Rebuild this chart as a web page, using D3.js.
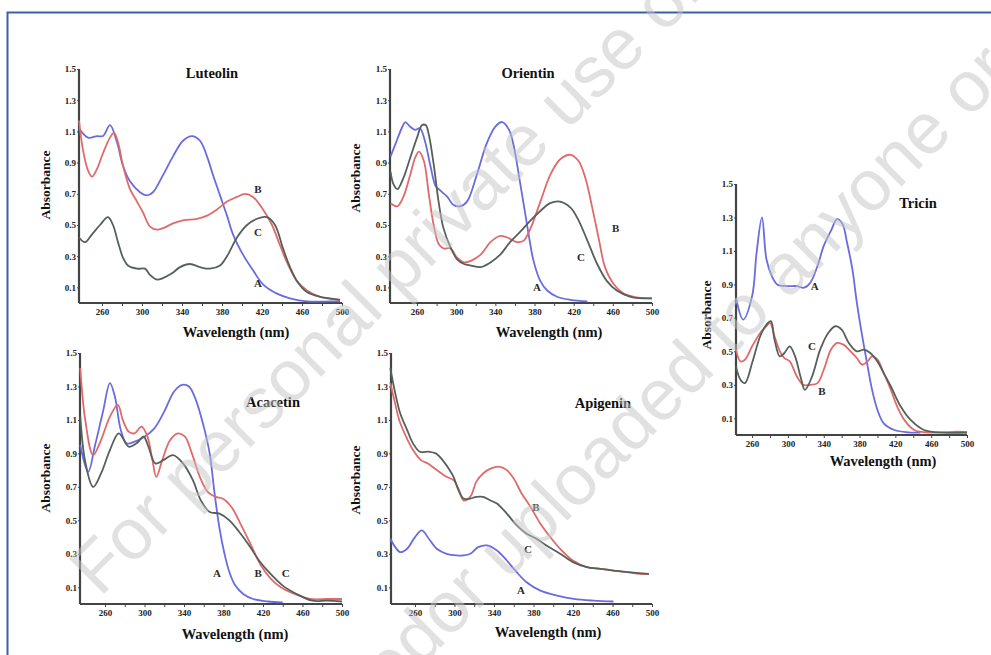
<!DOCTYPE html>
<html>
<head>
<meta charset="utf-8">
<script src="https://cdn.jsdelivr.net/npm/d3@7"></script>
<style>
  html, body { margin: 0; padding: 0; background: #fff; }
  svg { display: block; }
</style>
</head>
<body>
<svg id="chart" width="991" height="655"></svg>
<script>
// UV-Vis spectra, wavelength (nm) vs absorbance. A = compound, B and C = shifted spectra.
const luteolinA = [[237,1.12],[246,1.06],[255,1.07],[261,1.07],[268,1.14],[275,1.03],[281,0.88],[288,0.78],[298,0.71],[305,0.69],[311,0.71],[321,0.82],[331,0.94],[341,1.04],[350,1.07],[358,1.04],[365,0.94],[371,0.82],[378,0.69],[385,0.56],[391,0.44],[401,0.31],[411,0.21],[421,0.12],[435,0.06],[448,0.03],[465,0.01],[488,0.01],[498,0.01]];
const luteolinB = [[237,1.17],[241,0.98],[246,0.85],[250,0.81],[255,0.86],[261,0.96],[268,1.06],[272,1.09],[276,1.03],[281,0.88],[288,0.73],[295,0.65],[301,0.58],[308,0.49],[315,0.47],[321,0.48],[331,0.51],[341,0.53],[355,0.54],[365,0.56],[375,0.60],[385,0.65],[395,0.68],[403,0.70],[411,0.68],[421,0.60],[430,0.50],[438,0.37],[445,0.26],[455,0.14],[465,0.08],[478,0.04],[488,0.03],[498,0.02]];
const luteolinC = [[237,0.42],[243,0.39],[250,0.44],[258,0.50],[266,0.55],[271,0.50],[276,0.39],[281,0.29],[286,0.24],[295,0.22],[303,0.22],[308,0.18],[315,0.15],[321,0.16],[330,0.19],[338,0.23],[348,0.25],[358,0.23],[368,0.22],[378,0.24],[385,0.30],[395,0.42],[405,0.50],[415,0.54],[425,0.55],[433,0.50],[441,0.35],[448,0.23],[455,0.14],[465,0.07],[478,0.04],[498,0.02]];

const orientinA = [[233,0.94],[238,1.02],[245,1.13],[248,1.16],[253,1.13],[258,1.11],[263,1.12],[268,1.04],[274,0.87],[279,0.75],[284,0.72],[291,0.68],[297,0.63],[304,0.62],[311,0.65],[321,0.82],[331,1.02],[340,1.13],[347,1.16],[354,1.11],[359,1.00],[364,0.82],[369,0.63],[374,0.44],[379,0.27],[386,0.14],[393,0.08],[403,0.04],[417,0.02],[434,0.01]];
const orientinB = [[233,0.64],[240,0.62],[246,0.68],[253,0.82],[258,0.93],[262,0.97],[267,0.91],[272,0.70],[277,0.50],[282,0.38],[287,0.35],[294,0.35],[301,0.29],[308,0.26],[315,0.27],[325,0.31],[335,0.39],[345,0.43],[352,0.42],[362,0.39],[369,0.40],[376,0.48],[386,0.65],[396,0.82],[406,0.92],[417,0.95],[425,0.91],[432,0.80],[439,0.61],[446,0.40],[452,0.23],[461,0.12],[471,0.06],[481,0.04],[500,0.03]];
const orientinC = [[233,0.84],[236,0.76],[240,0.73],[246,0.80],[253,0.93],[260,1.06],[265,1.14],[269,1.14],[272,1.08],[277,0.89],[282,0.65],[287,0.48],[294,0.36],[301,0.28],[308,0.25],[315,0.24],[325,0.23],[335,0.26],[345,0.31],[355,0.39],[366,0.46],[376,0.53],[386,0.59],[396,0.64],[406,0.65],[417,0.61],[425,0.53],[434,0.40],[444,0.25],[454,0.14],[464,0.08],[478,0.04],[500,0.03]];

const acacetinA = [[235,0.95],[243,0.79],[250,0.95],[258,1.15],[265,1.32],[270,1.24],[276,1.04],[282,0.96],[290,0.97],[300,1.00],[310,1.05],[320,1.15],[330,1.27],[338,1.31],[345,1.30],[352,1.22],[360,1.06],[366,0.90],[371,0.66],[376,0.45],[381,0.30],[386,0.19],[392,0.11],[400,0.06],[410,0.03],[425,0.015],[440,0.01]];
const acacetinB = [[235,1.41],[240,1.10],[248,0.89],[256,0.98],[265,1.12],[273,1.19],[278,1.10],[284,1.03],[290,1.02],[297,1.06],[303,1.00],[308,0.86],[312,0.76],[318,0.86],[326,0.98],[334,1.02],[341,1.00],[348,0.90],[356,0.76],[364,0.67],[372,0.64],[379,0.63],[388,0.58],[398,0.47],[408,0.35],[418,0.23],[428,0.15],[438,0.10],[452,0.06],[468,0.03],[485,0.03],[500,0.03]];
const acacetinC = [[235,1.12],[240,0.85],[248,0.70],[256,0.78],[265,0.92],[274,1.02],[284,0.94],[292,0.96],[299,1.00],[304,0.94],[311,0.84],[319,0.86],[329,0.89],[339,0.84],[349,0.74],[357,0.62],[366,0.55],[376,0.54],[386,0.50],[396,0.43],[406,0.35],[416,0.26],[426,0.19],[440,0.11],[454,0.06],[470,0.02],[485,0.02],[500,0.015]];

const apigeninA = [[235,0.39],[240,0.34],[245,0.31],[252,0.33],[260,0.40],[267,0.44],[274,0.39],[282,0.33],[292,0.30],[302,0.29],[309,0.29],[316,0.30],[324,0.34],[333,0.35],[343,0.32],[353,0.26],[363,0.19],[373,0.13],[387,0.08],[404,0.05],[421,0.03],[441,0.02],[461,0.015]];
const apigeninB = [[235,1.32],[239,1.22],[244,1.10],[251,1.00],[258,0.92],[266,0.86],[273,0.84],[280,0.81],[287,0.78],[292,0.76],[299,0.74],[304,0.69],[309,0.62],[312,0.62],[317,0.65],[322,0.73],[329,0.78],[337,0.81],[346,0.82],[353,0.80],[360,0.75],[368,0.66],[377,0.58],[387,0.48],[397,0.40],[407,0.33],[420,0.26],[434,0.22],[448,0.21],[461,0.20],[475,0.19],[488,0.18],[497,0.18]];
const apigeninC = [[235,1.41],[240,1.26],[245,1.14],[252,1.04],[258,0.96],[265,0.91],[274,0.91],[281,0.90],[288,0.86],[294,0.81],[299,0.76],[304,0.68],[309,0.63],[316,0.63],[322,0.64],[329,0.64],[336,0.62],[343,0.60],[353,0.54],[363,0.47],[373,0.42],[383,0.39],[393,0.35],[407,0.30],[420,0.25],[434,0.22],[448,0.21],[461,0.20],[475,0.19],[497,0.18]];

const tricinA = [[242,0.82],[250,0.69],[260,0.83],[265,1.09],[271,1.30],[276,1.05],[282,0.95],[288,0.90],[299,0.89],[310,0.89],[318,0.88],[325,0.91],[333,1.01],[340,1.13],[348,1.22],[355,1.29],[361,1.26],[366,1.15],[372,0.99],[377,0.79],[383,0.59],[389,0.41],[394,0.27],[400,0.15],[407,0.07],[419,0.03],[434,0.016],[448,0.015]];
const tricinB = [[242,0.51],[247,0.44],[252,0.45],[260,0.53],[269,0.61],[276,0.65],[280,0.67],[285,0.59],[291,0.50],[296,0.46],[302,0.44],[310,0.35],[317,0.30],[325,0.30],[333,0.31],[340,0.39],[348,0.51],[355,0.55],[362,0.54],[370,0.50],[377,0.46],[383,0.42],[389,0.44],[394,0.47],[400,0.45],[407,0.37],[415,0.27],[422,0.17],[430,0.09],[441,0.03],[460,0.014],[490,0.02],[500,0.015]];
const tricinC = [[242,0.41],[247,0.33],[252,0.31],[260,0.43],[269,0.59],[276,0.66],[281,0.68],[285,0.57],[291,0.47],[296,0.49],[302,0.53],[308,0.47],[314,0.35],[319,0.27],[327,0.35],[336,0.51],[345,0.61],[353,0.65],[360,0.63],[368,0.55],[377,0.50],[385,0.51],[392,0.49],[400,0.44],[407,0.37],[415,0.29],[426,0.17],[437,0.09],[452,0.03],[474,0.014],[500,0.015]];

const xTickValues = [260, 300, 340, 380, 420, 460, 500];
const yTickValues = [0.1, 0.3, 0.5, 0.7, 0.9, 1.1, 1.3, 1.5];
const seriesNames = ["A", "B", "C"];

// Layout of each small plot on the page
const panels = [
  { title: "Luteolin", data: [luteolinA, luteolinB, luteolinC],
    xr: [79, 342], xd: [237, 500], yr: [303, 69],
    titlePos: [212, 78], xTitle: [236, 337], yTitle: [45, 185],
    letters: [[416, 0.13], [416, 0.73], [416, 0.455]] },
  { title: "Orientin", data: [orientinA, orientinB, orientinC],
    xr: [390, 652], xd: [232.4, 500], yr: [303, 69],
    titlePos: [528, 78], xTitle: [549, 337], yTitle: [355, 178],
    letters: [[382.6, 0.10], [463, 0.48], [427.5, 0.295]] },
  { title: "Acacetin", data: [acacetinA, acacetinB, acacetinC],
    xr: [80, 342], xd: [234.7, 500], yr: [604, 353],
    titlePos: [273, 407], xTitle: [235, 639], yTitle: [45, 478],
    letters: [[373.4, 0.185], [415, 0.185], [443, 0.185]] },
  { title: "Apigenin", data: [apigeninA, apigeninB, apigeninC],
    xr: [391, 652], xd: [235.7, 500], yr: [604, 353],
    titlePos: [603, 408], xTitle: [548, 637], yTitle: [355, 480],
    letters: [[367.3, 0.085], [382.5, 0.58], [374.4, 0.33]] },
  { title: "Tricin", data: [tricinA, tricinB, tricinC],
    xr: [736, 967], xd: [242, 500], yr: [435, 184],
    titlePos: [918, 208], xTitle: [883, 466], yTitle: [706, 315],
    letters: [[330, 0.89], [338, 0.26], [326.8, 0.53]] }
];

const colors = ["#6b6be0", "#e06a6a", "#56605a"];
const serif = "'Liberation Serif', 'Times New Roman', serif";

const svg = d3.select("#chart");

// page frame
svg.append("rect")
  .attr("x", 7.5).attr("y", 12.5)
  .attr("width", 1000).attr("height", 700)
  .attr("fill", "none")
  .attr("stroke", "#3d5fa8")
  .attr("stroke-width", 2);

panels.forEach(p => {
  const x = d3.scaleLinear().domain(p.xd).range(p.xr);
  const y = d3.scaleLinear().domain([0, 1.5]).range(p.yr);
  const g = svg.append("g");

  // x axis
  const xAxis = d3.axisBottom(x)
    .tickValues(d3.range(260, 501, 20))
    .tickSize(3)
    .tickFormat(d => xTickValues.includes(d) ? d : "");
  const gx = g.append("g")
    .attr("transform", `translate(0,${p.yr[0]})`)
    .call(xAxis);
  gx.select(".domain")
    .attr("d", `M${p.xr[0]},0H${p.xr[1]}`)
    .attr("stroke", "#444").attr("stroke-width", 2.2);
  gx.selectAll(".tick line").attr("stroke", "#444").attr("stroke-width", 1);
  gx.selectAll(".tick text")
    .attr("font-family", serif).attr("font-weight", "bold")
    .attr("font-size", 9).attr("fill", "#222").attr("dy", "0.62em");

  // y axis
  const yAxis = d3.axisLeft(y)
    .tickValues(yTickValues)
    .tickSize(2)
    .tickFormat(d3.format(".1f"));
  const gy = g.append("g")
    .attr("transform", `translate(${p.xr[0]},0)`)
    .call(yAxis);
  gy.select(".domain")
    .attr("d", `M0,${y(1.5)}V${p.yr[0]}`)
    .attr("stroke", "#444").attr("stroke-width", 2.2);
  gy.selectAll(".tick line").attr("stroke", "#444");
  gy.selectAll(".tick text")
    .attr("font-family", serif).attr("font-weight", "bold")
    .attr("font-size", 9).attr("fill", "#222").attr("x", -3);

  // spectra
  const line = d3.line()
    .x(d => x(d[0]))
    .y(d => y(d[1]))
    .curve(d3.curveCatmullRom.alpha(0.5));
  p.data.forEach((s, i) => {
    g.append("path")
      .datum(s)
      .attr("d", line)
      .attr("fill", "none")
      .attr("stroke", colors[i])
      .attr("stroke-width", 1.8)
      .attr("stroke-linejoin", "round");
  });

  // series letters
  p.letters.forEach((l, i) => {
    g.append("text")
      .attr("x", x(l[0])).attr("y", y(l[1]))
      .attr("dy", "0.35em")
      .attr("text-anchor", "middle")
      .attr("font-family", serif).attr("font-weight", "bold")
      .attr("font-size", 11).attr("fill", "#2a2a2a")
      .text(seriesNames[i]);
  });

  // titles
  g.append("text")
    .attr("x", p.titlePos[0]).attr("y", p.titlePos[1])
    .attr("text-anchor", "middle")
    .attr("font-family", serif).attr("font-weight", "bold")
    .attr("font-size", 14.5).attr("fill", "#111")
    .text(p.title);
  g.append("text")
    .attr("x", p.xTitle[0]).attr("y", p.xTitle[1])
    .attr("text-anchor", "middle")
    .attr("font-family", serif).attr("font-weight", "bold")
    .attr("font-size", 14.5).attr("fill", "#111")
    .text("Wavelength (nm)");
  g.append("text")
    .attr("transform", `translate(${p.yTitle[0]},${p.yTitle[1]}) rotate(-90)`)
    .attr("text-anchor", "middle")
    .attr("dy", "0.35em")
    .attr("font-family", serif).attr("font-weight", "bold")
    .attr("font-size", 13.5).attr("fill", "#111")
    .text("Absorbance");
});

// usage notice printed diagonally across the page
const notice = svg.append("g")
  .attr("font-family", "'Liberation Sans', Arial, sans-serif")
  .attr("font-size", 72)
  .attr("fill", "#c4c4c4")
  .attr("fill-opacity", 0.5);
notice.append("text")
  .attr("transform", "translate(100,598) rotate(-45)")
  .text("For personal private use only");
notice.append("text")
  .attr("transform", "translate(448,640) rotate(-45)")
  .text("or uploaded to anyone or");
notice.append("text")
  .attr("transform", "translate(448,640) rotate(-45)")
  .attr("text-anchor", "end")
  .text("shared ");
</script>
</body>
</html>
